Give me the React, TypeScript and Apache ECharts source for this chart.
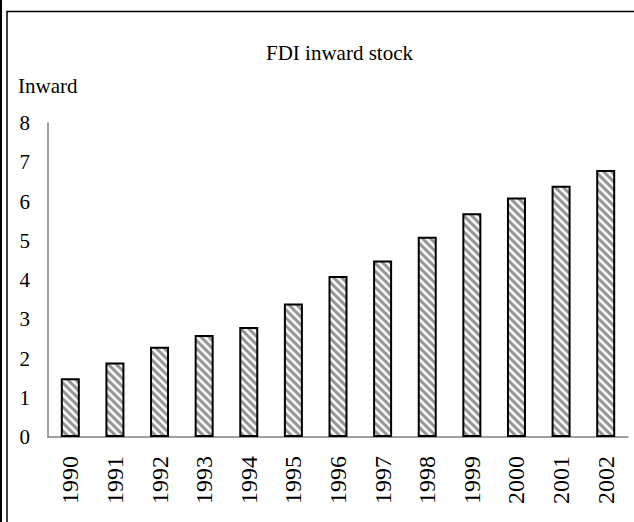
import React, { useEffect, useRef } from "react";
import * as echarts from "echarts";

const categories = ["1990", "1991", "1992", "1993", "1994", "1995", "1996", "1997", "1998", "1999", "2000", "2001", "2002"];
const inwardValues = [1.5, 1.9, 2.3, 2.6, 2.8, 3.4, 4.1, 4.5, 5.1, 5.7, 6.1, 6.4, 6.8];
const titleText = "FDI inward stock";
const yAxisName = "Inward";

function makePattern(): string {
  const c = document.createElement("canvas");
  const s = 8;
  c.width = s;
  c.height = s;
  const ctx = c.getContext("2d")!;
  ctx.fillStyle = "#f4f4f4";
  ctx.fillRect(0, 0, s, s);
  ctx.strokeStyle = "#959595";
  ctx.lineWidth = 3;
  for (let k = -1; k <= 1; k++) {
    ctx.beginPath();
    ctx.moveTo(k * s - 1, -1);
    ctx.lineTo(k * s + s + 1, s + 1);
    ctx.stroke();
  }
  return c.toDataURL();
}

export default function App() {
  const ref = useRef<HTMLDivElement>(null);
  useEffect(() => {
    document.body.style.margin = "0";
    if (!ref.current) return;
    const chart = echarts.init(ref.current, null, { renderer: "svg" });
    const font = "'Liberation Serif', 'Times New Roman', serif";
    chart.setOption({
      animation: false,
      backgroundColor: "#ffffff",
      title: {
        text: titleText,
        left: 261,
        top: 37,
        textStyle: { fontFamily: font, fontSize: 21, fontWeight: "normal", color: "#000" },
      },
      graphic: [
        { type: "rect", shape: { x: 0, y: 0, width: 2, height: 522 }, style: { fill: "#000" } },
        { type: "rect", shape: { x: 7, y: 11.5, width: 640, height: 530 }, style: { fill: "none", stroke: "#000", lineWidth: 1.5 } },
        { type: "text", left: 18, top: 75, style: { text: yAxisName, fontFamily: font, fontSize: 21, fill: "#000" } },
      ],
      grid: { left: 48, right: 6, top: 123, bottom: 85 },
      xAxis: {
        type: "category",
        data: categories,
        axisLine: { show: true, lineStyle: { color: "#808080", width: 1.5 } },
        axisTick: { show: false },
        axisLabel: { rotate: 90, margin: 19, fontFamily: font, fontSize: 24, color: "#000" },
      },
      yAxis: {
        type: "value",
        min: 0,
        max: 8,
        interval: 1,
        axisLine: { show: true, lineStyle: { color: "#808080", width: 1.5 } },
        axisTick: { show: false },
        splitLine: { show: false },
        axisLabel: { margin: 18, fontFamily: font, fontSize: 21, color: "#000" },
      },
      series: [
        {
          type: "bar",
          data: inwardValues,
          barWidth: 19,
          itemStyle: {
            color: { image: makePattern(), repeat: "repeat" },
            borderColor: "#000",
            borderWidth: 2,
          },
        },
      ],
    });
    return () => chart.dispose();
  }, []);
  return <div ref={ref} style={{ width: 634, height: 522 }} />;
}
